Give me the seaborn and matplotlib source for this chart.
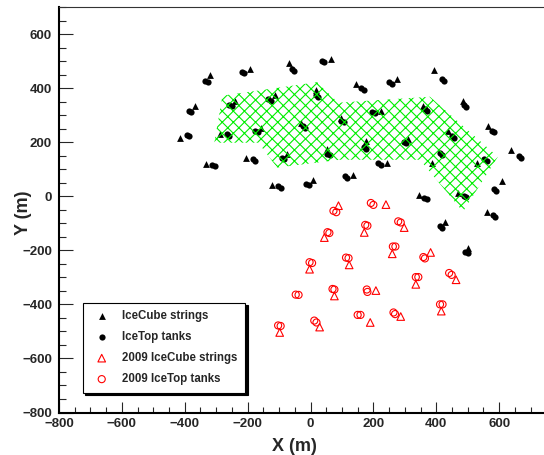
import numpy as np
import seaborn as sns
import matplotlib
matplotlib.use("Agg")
from matplotlib import pyplot as plt
from matplotlib.patches import Polygon
from matplotlib.ticker import MultipleLocator

# IceCube strings (40)
string_x = [-321, -194, -67, 65, 145, 274, 393, -366, -239, -112, 17, 224, 357, 486,
            -416, -287, -157, -31, 97, 177, 311, 438, 565, -331, -204, -75, 52, 243,
            385, 530, 639, -123, 8, 135, 344, 469, 608, 561, 428, 501]
string_y = [450, 471, 491, 508, 416, 432, 466, 333, 351, 373, 392, 314, 333, 351,
            216, 232, 253, 271, 290, 203, 212, 240, 259, 119, 142, 156, 175, 123,
            123, 123, 170, 43, 59, 80, 4, 12, 55, -59, -96, -193]

# IceTop tanks (two per station)
tank_x = [-335, -327, -219, -211, -60, -52, 35, 43, 162, 170, 251, 259, 418, 426,
          -388, -380, -259, -251, -134, -126, 16, 24, 196, 204, 363, 371, 487, 495,
          -394, -386, -267, -259, -176, -168, -24, -16, 97, 105, 170, 178, 297, 305,
          450, 458, 577, 585, -312, -304, -183, -175, -92, -84, 53, 61, 215, 223,
          411, 419, 553, 561, 662, 670, -102, -94, -14, -6, 109, 117, 362, 370,
          487, 495, 583, 591, 579, 587, 411, 419, 493, 501]
tank_y = [428, 422, 461, 455, 469, 463, 502, 496, 400, 394, 422, 416, 432, 426,
          317, 311, 338, 332, 360, 354, 373, 367, 313, 307, 323, 317, 336, 330,
          228, 222, 230, 224, 243, 237, 258, 252, 280, 274, 181, 175, 202, 196,
          222, 216, 243, 237, 117, 111, 138, 132, 142, 136, 157, 151, 122, 116,
          159, 153, 136, 130, 148, 142, 37, 31, 47, 41, 74, 68, -6, -12,
          2, -4, 26, 20, -69, -75, -110, -116, -205, -211]

# 2009 IceCube strings
new_string_x = [89, 240, 171, 298, 44, 260, 382, -3, 123, 335, 463, 76, 208, 416,
                190, 287, 29, -98]
new_string_y = [-35, -31, -134, -116, -153, -213, -208, -270, -254, -326, -309,
                -369, -349, -425, -467, -445, -484, -504]

# 2009 IceTop tanks
new_tank_x = [73, 82, 192, 200, 174, 181, 279, 287, 54, 60, 262, 270, 359, 364,
              -3, 5, 113, 121, 335, 343, 441, 449, 70, 76, 179, 181, 412, 420,
              150, 159, 264, 269, 12, 19, -103, -95, -47, -38]
new_tank_y = [-54, -59, -25, -32, -106, -109, -93, -97, -133, -136, -186, -186,
              -225, -230, -244, -247, -227, -229, -299, -299, -284, -291, -343,
              -345, -345, -354, -400, -400, -439, -439, -430, -436, -460, -467,
              -478, -480, -364, -365]

# hatched region outline
region_x = [-280, 21, 88, 380, 596, 485, 348, 94, -106, -166, -306]
region_y = [372, 422, 346, 368, 146, -57, 135, 135, 106, 198, 198]

x_ticks = [-800, -600, -400, -200, 0, 200, 400, 600]

sns.set_style("ticks")
plt.rcParams["font.family"] = ["Liberation Sans", "DejaVu Sans"]
plt.rcParams["font.weight"] = "bold"
plt.rcParams["hatch.linewidth"] = 0.8

fig = plt.figure(figsize=(5.44, 4.55), dpi=100)
ax = fig.add_axes([59 / 544, 42.5 / 455, 503 / 544, 405.5 / 455])

sns.scatterplot(x=string_x, y=string_y, marker="^", color="black", s=24,
                linewidth=0, ax=ax, label="IceCube strings")
sns.scatterplot(x=tank_x, y=tank_y, marker="o", color="black", s=20,
                linewidth=0, ax=ax, label="IceTop tanks")
sns.scatterplot(x=new_string_x, y=new_string_y, marker="^", facecolor="none",
                edgecolor="red", s=30, linewidth=0.8, ax=ax,
                label="2009 IceCube strings")
sns.scatterplot(x=new_tank_x, y=new_tank_y, marker="o", facecolor="none",
                edgecolor="red", s=26, linewidth=0.8, ax=ax,
                label="2009 IceTop tanks")

ax.add_patch(Polygon(np.column_stack([region_x, region_y]), closed=True,
                     facecolor="none", edgecolor="#00ee00", linewidth=0,
                     hatch="xxx", zorder=3))

ax.set_xlim(-800, 800)
ax.set_ylim(-800, 700)
ax.set_xticks(x_ticks)
ax.xaxis.set_minor_locator(MultipleLocator(50))
ax.yaxis.set_major_locator(MultipleLocator(200))
ax.yaxis.set_minor_locator(MultipleLocator(50))
ax.tick_params(axis="x", which="major", direction="in", length=8, width=0.8,
               labelsize=9.5, pad=4)
ax.tick_params(axis="x", which="minor", direction="in", length=4.3, width=0.8)
ax.tick_params(axis="y", which="major", direction="in", length=10, width=0.8,
               labelsize=9.5, pad=5)
ax.tick_params(axis="y", which="minor", direction="in", length=5, width=0.8)
for lab in ax.get_xticklabels() + ax.get_yticklabels():
    lab.set_fontweight("bold")

for side in ["left", "bottom"]:
    ax.spines[side].set_linewidth(1.5)
    ax.spines[side].set_color("black")
ax.spines["top"].set_linewidth(0.8)
ax.spines["top"].set_color("#333333")
ax.spines["right"].set_visible(False)

ax.set_xlabel("X (m)", fontsize=13, fontweight="bold", va="center")
ax.set_ylabel("Y (m)", fontsize=13, fontweight="bold", va="center")
ax.xaxis.set_label_coords(0.468, -0.0843)
ax.yaxis.set_label_coords(-0.071, 0.492)

leg = ax.legend(loc="upper left", bbox_to_anchor=(82.7 / 544, 1 - 302.7 / 455),
                bbox_transform=fig.transFigure, borderaxespad=0, fancybox=False,
                framealpha=1, edgecolor="black", fontsize=8.3, borderpad=0.65,
                handlelength=2.0, handletextpad=0.8, labelspacing=0.78,
                shadow={"color": "black", "alpha": 1})
leg.get_frame().set_linewidth(0.8)
for t in leg.get_texts():
    t.set_fontweight("bold")

fig.savefig("out.png", dpi=100)
